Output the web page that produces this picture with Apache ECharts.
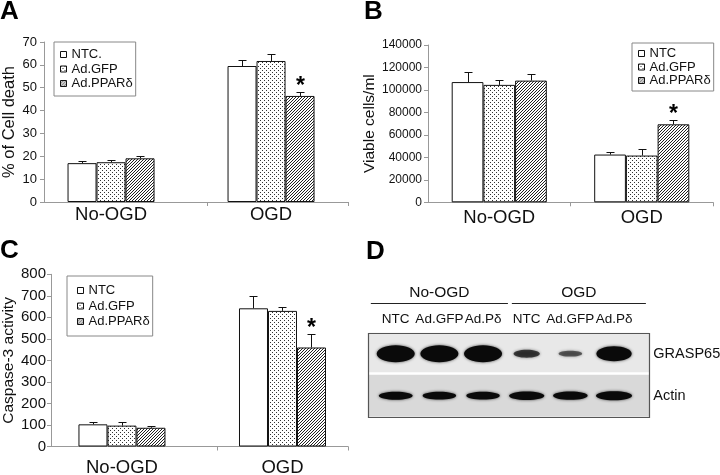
<!DOCTYPE html>
<html><head><meta charset="utf-8">
<script src="https://cdn.jsdelivr.net/npm/echarts@6/dist/echarts.min.js"></script>
<style>html,body{margin:0;padding:0;background:#fff}#c{width:720px;height:475px}</style>
</head><body><div id="c"></div>
<script>
// ---------------- DATA ----------------
const categories = ['No-OGD', 'OGD'];
const legendNamesA = ['NTC.', 'Ad.GFP', 'Ad.PPARδ'];
const legendNames = ['NTC', 'Ad.GFP', 'Ad.PPARδ'];

// Panel A: % of cell death
const yTicksA = [0, 10, 20, 30, 40, 50, 60, 70];
const deathNTC = [17.0, 59.5];
const deathGFP = [17.4, 61.7];
const deathPPAR = [19.1, 46.4];
const deathErrNTC = [1.1, 2.8];
const deathErrGFP = [1.0, 3.2];
const deathErrPPAR = [1.0, 1.9];
const deathSigPPAR = [0, 1];

// Panel B: viable cells/ml
const yTicksB = [0, 20000, 40000, 60000, 80000, 100000, 120000, 140000];
const viableNTC = [107000, 42500];
const viableGFP = [104500, 41600];
const viablePPAR = [108300, 69400];
const viableErrNTC = [9000, 2500];
const viableErrGFP = [4000, 5400];
const viableErrPPAR = [6000, 4000];
const viableSigPPAR = [0, 1];

// Panel C: caspase-3 activity
const yTicksC = [0, 100, 200, 300, 400, 500, 600, 700, 800];
const caspNTC = [103, 642];
const caspGFP = [97, 630];
const caspPPAR = [87, 460];
const caspErrNTC = [10, 58];
const caspErrGFP = [15, 18];
const caspErrPPAR = [10, 64];
const caspSigPPAR = [0, 1];

// Panel D: western blot (relative band intensity)
const lanes = ['NTC', 'Ad.GFP', 'Ad.Pδ', 'NTC', 'Ad.GFP', 'Ad.Pδ'];
const laneGroups = ['No-OGD', 'OGD'];
const laneGroupFirst = [0, 3];
const laneGroupLast = [2, 5];
const blotRows = ['GRASP65', 'Actin'];
const grasp65 = [1.0, 1.0, 1.0, 0.35, 0.2, 0.85];
const actin = [0.85, 0.82, 0.82, 0.95, 0.9, 1.0];

// ---------------- STYLE ----------------
const FONT = '"Liberation Sans", Arial, Helvetica, sans-serif';
const TXT = '#111';
const AX = '#999';

function makePattern(kind) {
  const c = document.createElement('canvas');
  const g = c.getContext('2d');
  if (kind === 'dots') {
    c.width = 4; c.height = 4;
    g.fillStyle = '#fff'; g.fillRect(0, 0, 4, 4);
    g.fillStyle = '#333';
    g.fillRect(0, 0, 1, 1); g.fillRect(2, 2, 1, 1);
  } else {
    c.width = 3; c.height = 3;
    g.fillStyle = '#fff'; g.fillRect(0, 0, 3, 3);
    g.fillStyle = '#222';
    g.fillRect(0, 2, 1, 1); g.fillRect(1, 1, 1, 1); g.fillRect(2, 0, 1, 1);
  }
  return { image: c, repeat: 'repeat' };
}
const fills = ['#ffffff', makePattern('dots'), makePattern('hatch')];

const panels = [
  { names: legendNamesA, vals: [deathNTC, deathGFP, deathPPAR], errs: [deathErrNTC, deathErrGFP, deathErrPPAR], sig: deathSigPPAR,
    ticks: yTicksA, yName: '% of Cell death', yNameSize: 16.5,
    grid: { left: 44, top: 42, width: 304, height: 160 }, xMin: -0.419, xMax: 1.481, xTick: 0.6, barW: 29,
    yLabelSize: 13, yLabelMargin: 7, nameGap: 26, xLabelMargin: 3,
    legend: { left: 54, top: 42, padding: [6, 3, 6, 6], itemGap: 1.5, itemTextGap: 3 } },
  { names: legendNames, vals: [viableNTC, viableGFP, viablePPAR], errs: [viableErrNTC, viableErrGFP, viableErrPPAR], sig: viableSigPPAR,
    ticks: yTicksB, yName: 'Viable cells/ml', yNameSize: 15.5,
    grid: { left: 428, top: 45, width: 285, height: 157.3 }, xMin: -0.5, xMax: 1.5, xTick: 0.5, barW: 31.7,
    yLabelSize: 12, yLabelMargin: 6, nameGap: 47, xLabelMargin: 6,
    legend: { left: 632, top: 43, padding: [4, 3, 4, 6], itemGap: 0.5, itemTextGap: 2 } },
  { names: legendNames, vals: [caspNTC, caspGFP, caspPPAR], errs: [caspErrNTC, caspErrGFP, caspErrPPAR], sig: caspSigPPAR,
    ticks: yTicksC, yName: 'Caspase-3 activity', yNameSize: 15.5,
    grid: { left: 51, top: 274.3, width: 297, height: 172.2 }, xMin: -0.442, xMax: 1.408, xTick: 0.592, barW: 29,
    yLabelSize: 15, yLabelMargin: 5, nameGap: 33, xLabelMargin: 12,
    legend: { left: 67, top: 276, padding: [8, 3, 8, 10], itemGap: 2.5, itemTextGap: 3 } }
];

const grids = [], xAxes = [], yAxes = [], series = [], legends = [];

panels.forEach((p, pi) => {
  grids.push(Object.assign({ outerBoundsMode: 'none', containLabel: false }, p.grid));
  xAxes.push({
    type: 'value', gridIndex: pi, min: p.xMin, max: p.xMax,
    axisLine: { show: true, onZero: false, lineStyle: { color: AX, width: 1 } },
    axisTick: { show: true, customValues: [p.xTick, p.xMax], length: 4, lineStyle: { color: AX } },
    axisLabel: { customValues: [0, 1], formatter: v => categories[Math.round(v)], fontSize: 18.5, color: TXT, fontFamily: FONT, margin: p.xLabelMargin },
    splitLine: { show: false }
  });
  const t = p.ticks;
  yAxes.push({
    type: 'value', gridIndex: pi, min: t[0], max: t[t.length - 1], interval: t[1] - t[0],
    axisLine: { show: true, onZero: false, lineStyle: { color: AX, width: 1 } },
    axisTick: { show: true, length: 4, lineStyle: { color: AX } },
    axisLabel: { fontSize: p.yLabelSize, color: TXT, fontFamily: FONT, margin: p.yLabelMargin, formatter: v => String(v) },
    splitLine: { show: false },
    name: p.yName, nameLocation: 'middle', nameGap: p.nameGap, nameRotate: 90,
    nameTextStyle: { fontSize: p.yNameSize, color: TXT, fontFamily: FONT }
  });
  p.vals.forEach((vals, si) => {
    series.push({
      type: 'bar', name: p.names[si], xAxisIndex: pi, yAxisIndex: pi,
      data: vals.map((v, i) => [i, v]), barWidth: p.barW, barGap: '0%',
      itemStyle: { color: fills[si], borderColor: '#111', borderWidth: 1 },
      silent: true, z: 2
    });
  });
  const errData = [];
  p.vals.forEach((vals, si) => vals.forEach((v, i) => {
    errData.push([i, v, p.errs[si][i], si, si === 2 ? p.sig[i] : 0]);
  }));
  const bw = p.barW;
  series.push({
    type: 'custom', xAxisIndex: pi, yAxisIndex: pi, silent: true, z: 3,
    encode: { x: 0, y: 1 },
    data: errData,
    renderItem: (params, api) => {
      const cat = api.value(0), v = api.value(1), e = api.value(2), si = api.value(3), sig = api.value(4);
      const b = api.coord([cat, v]), tp = api.coord([cat, v + e]);
      const x = Math.round(b[0] + (si - 1) * bw) + 0.5;
      const ty = Math.round(tp[1]) + 0.5;
      const ch = [
        { type: 'line', shape: { x1: x, y1: b[1], x2: x, y2: ty }, style: { stroke: '#111', lineWidth: 1 } },
        { type: 'line', shape: { x1: x - 4, y1: ty, x2: x + 4, y2: ty }, style: { stroke: '#111', lineWidth: 1 } }
      ];
      if (sig) ch.push({ type: 'text', style: { text: '*', x: x, y: ty - 6, align: 'center', verticalAlign: 'middle', fontSize: 23, fontWeight: 'bold', fontFamily: FONT, fill: '#000' } });
      return { type: 'group', children: ch };
    }
  });
  legends.push(Object.assign({
    data: p.names, orient: 'vertical', icon: 'rect', itemWidth: 6, itemHeight: 6,
    borderColor: '#888', borderWidth: 1, selectedMode: false,
    textStyle: { fontSize: 13, color: TXT, fontFamily: FONT },
    itemStyle: { borderColor: '#111', borderWidth: 1 }
  }, p.legend));
});

// Panel D grid
grids.push({ left: 368.3, top: 332.7, width: 281, height: 84, outerBoundsMode: 'none', containLabel: false });
xAxes.push({
  type: 'value', gridIndex: 3, min: -0.628, max: 5.808, position: 'top',
  axisLine: { show: false, onZero: false }, axisTick: { show: false }, splitLine: { show: false },
  axisLabel: { show: false }
});
yAxes.push({
  type: 'category', gridIndex: 3, data: blotRows, inverse: true, position: 'right',
  axisLine: { show: false }, axisTick: { show: false }, splitLine: { show: false },
  axisLabel: { fontSize: 14.5, color: TXT, fontFamily: FONT, margin: 4 }
});
const rowFill = ['#e8e8e8', '#d9d9d9'];
series.push({
  type: 'custom', xAxisIndex: 3, yAxisIndex: 3, silent: true, z: 1, encode: { x: 0, y: 1 },
  data: blotRows.map((r, i) => [0, i]),
  renderItem: (params, api) => {
    const row = api.value(1);
    const c = api.coord([0, row]);
    const h = api.size([0, 1])[1];
    const cs = params.coordSys;
    let y0 = c[1] - h / 2, y1 = c[1] + h / 2;
    if (row === 0) y1 -= 2.5;
    const ch = [{ type: 'rect', shape: { x: cs.x, y: y0, width: cs.width, height: y1 - y0 }, style: { fill: rowFill[row] } }];
    if (row === blotRows.length - 1) {
      ch.push({ type: 'rect', shape: { x: Math.round(cs.x) + 0.5, y: Math.round(cs.y) + 0.5, width: Math.round(cs.width), height: Math.round(cs.height) }, style: { fill: 'none', stroke: '#555', lineWidth: 1.2 } });
    }
    return { type: 'group', children: ch };
  }
});
const bandData = [];
grasp65.forEach((v, i) => bandData.push([i, 0, v]));
actin.forEach((v, i) => bandData.push([i, 1, v]));
series.push({
  type: 'custom', xAxisIndex: 3, yAxisIndex: 3, silent: true, z: 2, encode: { x: 0, y: 1 },
  data: bandData,
  renderItem: (params, api) => {
    const lane = api.value(0), row = api.value(1), I = api.value(2);
    const c = api.coord([lane, row]);
    let w, h;
    if (row === 0) { w = 20 + 18 * I; h = 3 + 14 * I; }
    else { w = 22 + 14 * I; h = 2 + 7 * I; }
    return {
      type: 'ellipse', shape: { cx: c[0], cy: c[1], rx: w / 2, ry: h / 2 },
      style: { fill: '#0a0a0a', opacity: Math.min(1, 0.35 + I), shadowBlur: 3, shadowColor: 'rgba(0,0,0,0.7)' }
    };
  }
});
// lane labels above the blot
series.push({
  type: 'custom', xAxisIndex: 3, yAxisIndex: 3, silent: true, z: 2, encode: { x: 0, y: 1 }, clip: false,
  data: lanes.map((l, i) => [i, 0]),
  renderItem: (params, api) => {
    const i = api.value(0);
    const c = api.coord([i, 0]);
    return { type: 'text', style: { text: lanes[i], x: c[0], y: params.coordSys.y - 13.5, align: 'center', verticalAlign: 'middle', fontSize: 13.5, fontFamily: FONT, fill: TXT } };
  }
});
const headerPad = [[0.57, 0.57], [0.34, 0.73]];
series.push({
  type: 'custom', xAxisIndex: 3, yAxisIndex: 3, silent: true, z: 2, encode: { x: 0, y: 1 }, clip: false,
  data: laneGroups.map((g, i) => [laneGroupFirst[i], 0, laneGroupLast[i], i]),
  renderItem: (params, api) => {
    const f = api.value(0), l = api.value(2), gi = api.value(3);
    const a = api.coord([f - headerPad[gi][0], 0]), b = api.coord([l + headerPad[gi][1], 0]);
    const cs = params.coordSys;
    const ly = Math.round(cs.y - 30) + 0.5;
    return { type: 'group', children: [
      { type: 'line', shape: { x1: a[0], y1: ly, x2: b[0], y2: ly }, style: { stroke: '#222', lineWidth: 1 } },
      { type: 'text', style: { text: laneGroups[gi], x: (a[0] + b[0]) / 2, y: ly - 10.5, align: 'center', verticalAlign: 'middle', fontSize: 15.5, fontFamily: FONT, fill: TXT } }
    ] };
  }
});

const letterStyle = { fontSize: 26, fontWeight: 'bold', color: '#000', fontFamily: FONT };
const option = {
  animation: false,
  textStyle: { fontFamily: FONT },
  title: [
    { text: 'A', left: 0, top: -1, padding: 0, textStyle: letterStyle },
    { text: 'B', left: 364, top: -1, padding: 0, textStyle: letterStyle },
    { text: 'C', left: 0, top: 238, padding: 0, textStyle: letterStyle },
    { text: 'D', left: 366, top: 239, padding: 0, textStyle: letterStyle }
  ],
  legend: legends,
  grid: grids, xAxis: xAxes, yAxis: yAxes, series: series
};
const chart = echarts.init(document.getElementById('c'), null, { renderer: 'canvas' });
chart.setOption(option);
</script></body></html>
